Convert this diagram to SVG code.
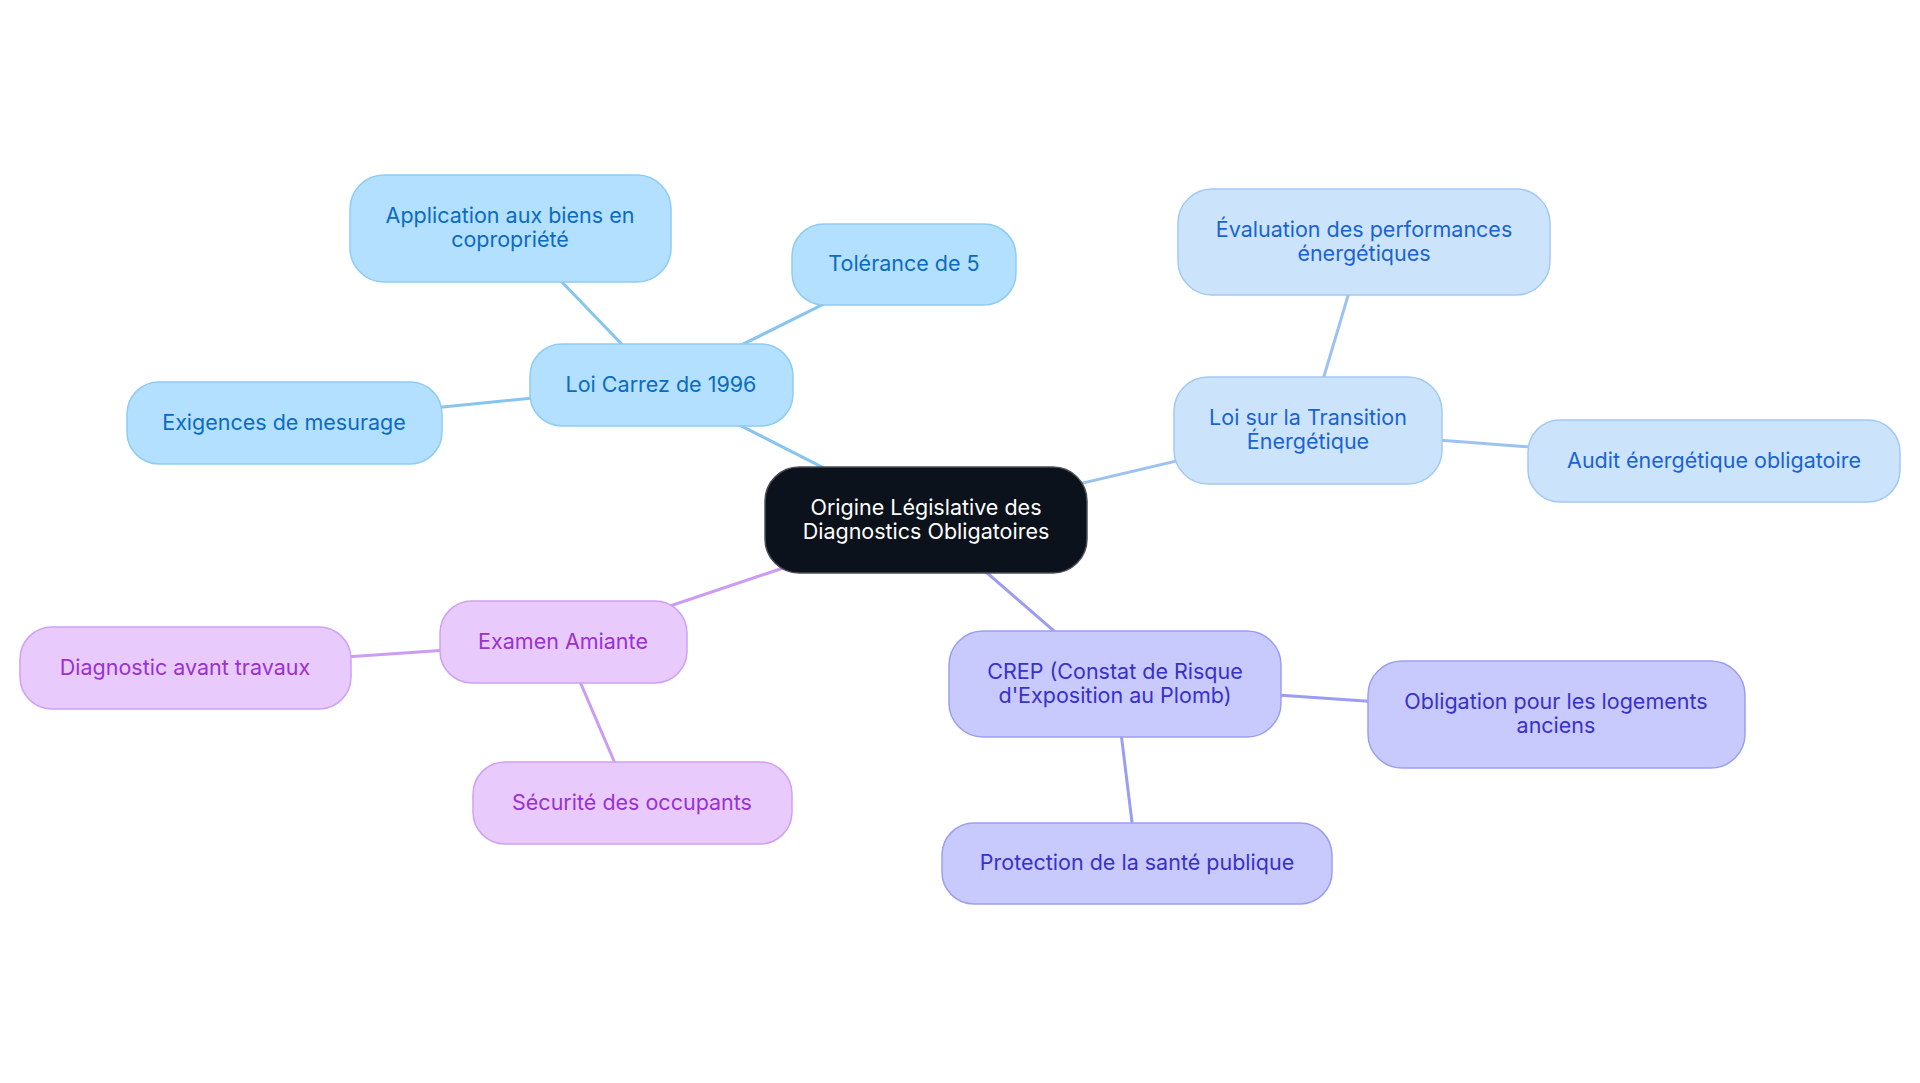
<svg xmlns="http://www.w3.org/2000/svg" width="1920" height="1083" viewBox="0 0 1920 1083">
<style>
text{font-family:Inter,"Noto Sans","Liberation Sans",sans-serif;font-size:21.5px;text-anchor:middle;dominant-baseline:central}
.n rect{stroke-width:1.5}
.root rect{fill:#0c121b;stroke:#4a4f58}
.root text{fill:#ffffff}
.b1 rect{fill:#b3e0fe;stroke:#8ecbf5}.b1 text{fill:#0b6bc1}
.b2 rect{fill:#cce3fc;stroke:#a3c9f3}.b2 text{fill:#1a63d0}
.b3 rect{fill:#c8c9fd;stroke:#9c9ef2}.b3 text{fill:#3831c9}
.b4 rect{fill:#e8cafd;stroke:#cfa1f2}.b4 text{fill:#9a31d0}
#edges line{stroke-width:3;fill:none}
.e1{stroke:#86c5ef}.e2{stroke:#9cc3f0}.e3{stroke:#9c9cf0}.e4{stroke:#cc9cf2}
</style>
<rect width="1920" height="1083" fill="#ffffff"/>
<g id="edges">
<line class="e1" x1="926" y1="520" x2="661" y2="385"/>
<line class="e1" x1="661" y1="385" x2="510" y2="228"/>
<line class="e1" x1="661" y1="385" x2="904" y2="264"/>
<line class="e1" x1="661" y1="385" x2="284" y2="423"/>
<line class="e2" x1="926" y1="520" x2="1308" y2="430"/>
<line class="e2" x1="1308" y1="430" x2="1364" y2="242"/>
<line class="e2" x1="1308" y1="430" x2="1714" y2="461"/>
<line class="e3" x1="926" y1="520" x2="1115" y2="684"/>
<line class="e3" x1="1115" y1="684" x2="1556" y2="714"/>
<line class="e3" x1="1115" y1="684" x2="1137" y2="863"/>
<line class="e4" x1="926" y1="520" x2="563" y2="642"/>
<line class="e4" x1="563" y1="642" x2="185" y2="668"/>
<line class="e4" x1="563" y1="642" x2="632" y2="803"/>
</g>
<g id="root" class="n root"><rect x="765" y="467" width="322" height="106" rx="34"/><text x="926" y="506.5">Origine Législative des</text><text x="926" y="530.5">Diagnostics Obligatoires</text></g>
<g id="loi-carrez" class="n b1"><rect x="530" y="344" width="263" height="82" rx="32"/><text x="661" y="383.5">Loi Carrez de 1996</text></g>
<g id="application" class="n b1"><rect x="350" y="175" width="321" height="107" rx="34"/><text x="510" y="214.5">Application aux biens en</text><text x="510" y="238.5">copropriété</text></g>
<g id="tolerance" class="n b1"><rect x="792" y="224" width="224" height="81" rx="32"/><text x="904" y="262.5">Tolérance de 5</text></g>
<g id="exigences" class="n b1"><rect x="127" y="382" width="315" height="82" rx="32"/><text x="284" y="421.5">Exigences de mesurage</text></g>
<g id="transition" class="n b2"><rect x="1174" y="377" width="268" height="107" rx="34"/><text x="1308" y="416.5">Loi sur la Transition</text><text x="1308" y="440.5">Énergétique</text></g>
<g id="evaluation" class="n b2"><rect x="1178" y="189" width="372" height="106" rx="34"/><text x="1364" y="228.5">Évaluation des performances</text><text x="1364" y="252.5">énergétiques</text></g>
<g id="audit" class="n b2"><rect x="1528" y="420" width="372" height="82" rx="32"/><text x="1714" y="459.5">Audit énergétique obligatoire</text></g>
<g id="crep" class="n b3"><rect x="949" y="631" width="332" height="106" rx="34"/><text x="1115" y="670.5">CREP (Constat de Risque</text><text x="1115" y="694.5">d'Exposition au Plomb)</text></g>
<g id="obligation" class="n b3"><rect x="1368" y="661" width="377" height="107" rx="34"/><text x="1556" y="700.5">Obligation pour les logements</text><text x="1556" y="724.5">anciens</text></g>
<g id="protection" class="n b3"><rect x="942" y="823" width="390" height="81" rx="32"/><text x="1137" y="861.5">Protection de la santé publique</text></g>
<g id="amiante" class="n b4"><rect x="440" y="601" width="247" height="82" rx="32"/><text x="563" y="640.5">Examen Amiante</text></g>
<g id="diagnostic" class="n b4"><rect x="20" y="627" width="331" height="82" rx="32"/><text x="185" y="666.5">Diagnostic avant travaux</text></g>
<g id="securite" class="n b4"><rect x="473" y="762" width="319" height="82" rx="32"/><text x="632" y="801.5">Sécurité des occupants</text></g>
</svg>
